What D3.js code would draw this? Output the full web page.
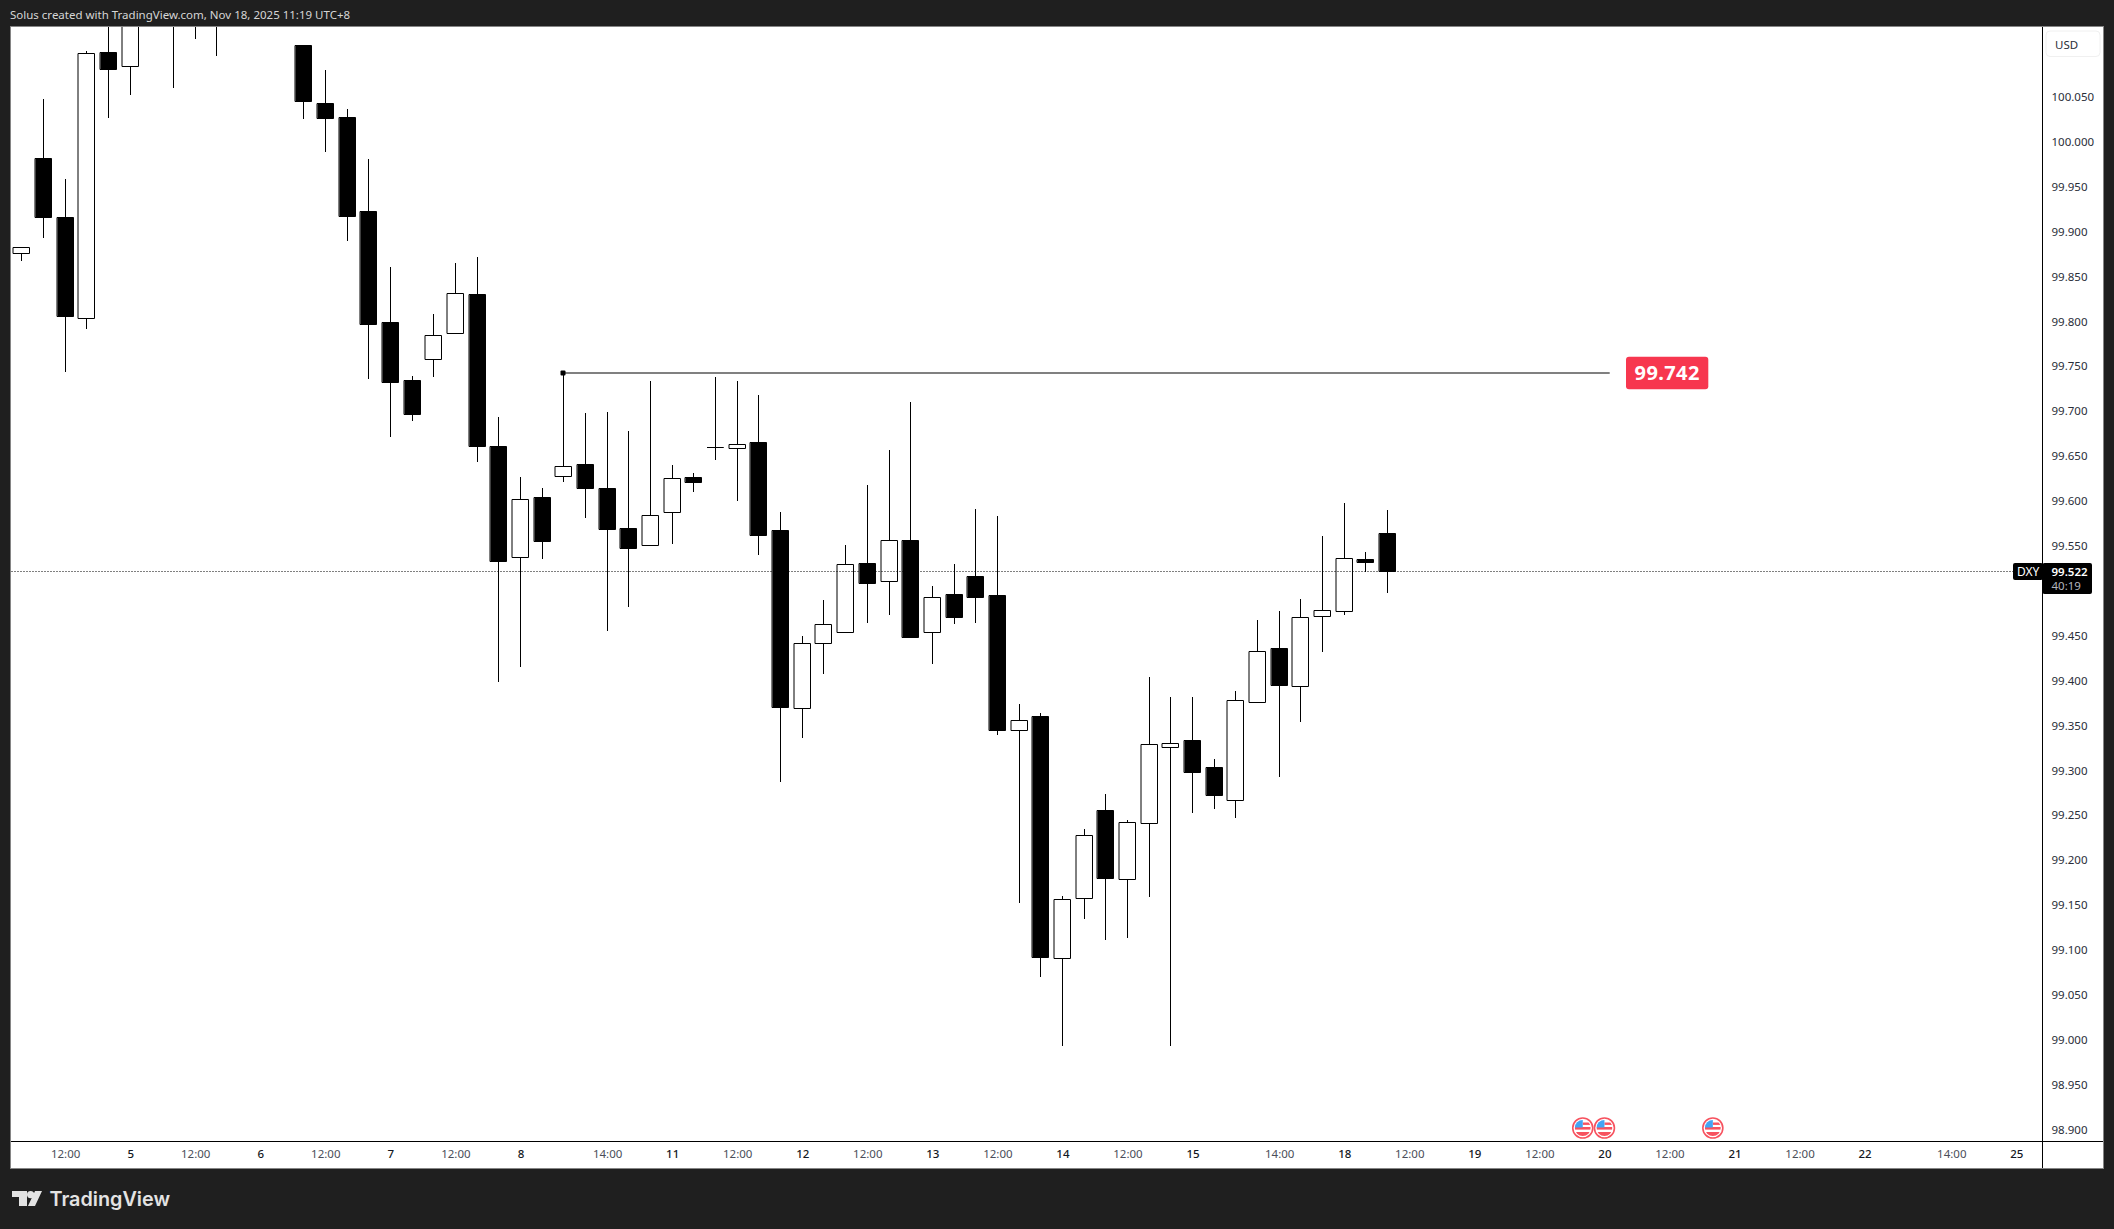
<!DOCTYPE html>
<html><head><meta charset="utf-8">
<script src="https://cdn.jsdelivr.net/npm/d3@7/dist/d3.min.js"></script>
<style>html,body{margin:0;padding:0;background:#1f1f1f;overflow:hidden}svg{display:block}</style>
</head><body><svg id="c" width="2114" height="1229"></svg>
<script>
const opens=[99.876,99.981,99.916,99.803,100.099,100.084,100.17,100.20,100.17,100.19,100.16,100.18,100.17,100.107,100.043,100.027,99.922,99.799,99.734,99.758,99.786,99.830,99.661,99.537,99.604,99.627,99.641,99.614,99.569,99.550,99.587,99.626,99.660,99.658,99.665,99.567,99.369,99.441,99.454,99.530,99.510,99.556,99.454,99.496,99.516,99.495,99.344,99.360,99.091,99.157,99.255,99.179,99.241,99.325,99.333,99.303,99.266,99.376,99.436,99.393,99.471,99.477,99.535,99.564];
const highs=[99.882,100.047,99.958,100.101,100.16,100.20,100.23,100.24,100.22,100.23,100.21,100.22,100.20,100.107,100.079,100.036,99.980,99.860,99.739,99.808,99.864,99.871,99.693,99.626,99.614,99.742,99.697,99.699,99.677,99.733,99.640,99.631,99.738,99.733,99.718,99.587,99.449,99.489,99.550,99.617,99.656,99.710,99.505,99.529,99.591,99.583,99.373,99.363,99.160,99.234,99.273,99.244,99.403,99.381,99.381,99.312,99.388,99.467,99.477,99.490,99.560,99.597,99.543,99.589];
const lows=[99.867,99.892,99.743,99.791,100.026,100.052,100.14,100.059,100.114,100.095,100.14,100.15,100.135,100.025,99.988,99.889,99.735,99.671,99.689,99.737,99.786,99.643,99.398,99.415,99.535,99.621,99.580,99.455,99.481,99.550,99.552,99.609,99.645,99.599,99.539,99.287,99.335,99.407,99.454,99.464,99.473,99.447,99.418,99.462,99.464,99.339,99.152,99.069,98.992,99.134,99.111,99.113,99.159,98.993,99.252,99.257,99.246,99.376,99.292,99.353,99.431,99.472,99.520,99.497];
const closes=[99.882,99.916,99.805,100.098,100.080,100.17,100.20,100.17,100.19,100.16,100.18,100.17,100.15,100.045,100.026,99.917,99.796,99.732,99.696,99.784,99.831,99.661,99.533,99.602,99.555,99.638,99.614,99.568,99.547,99.584,99.625,99.621,99.660,99.663,99.562,99.370,99.441,99.462,99.529,99.508,99.556,99.448,99.493,99.470,99.493,99.344,99.356,99.092,99.156,99.227,99.180,99.242,99.329,99.330,99.298,99.272,99.378,99.432,99.394,99.470,99.478,99.536,99.532,99.522];
const priceTicks=[100.05,100,99.95,99.9,99.85,99.8,99.75,99.7,99.65,99.6,99.55,99.45,99.4,99.35,99.3,99.25,99.2,99.15,99.1,99.05,99,98.95,98.9];
const timeSlots=[2,5,8,11,14,17,20,23,27,30,33,36,39,42,45,48,51,54,58,61,64,67,70,73,76,79,82,85,89,92];
const timeLabels=["12:00","5","12:00","6","12:00","7","12:00","8","14:00","11","12:00","12","12:00","13","12:00","14","12:00","15","14:00","18","12:00","19","12:00","20","12:00","21","12:00","22","14:00","25"];
const eventSlots=[72,73,78];
const levelPrice=99.742, levelStartSlot=25, lastPrice=99.522;
const symbol="DXY", currency="USD", countdown="40:19";
const headerText="Solus created with TradingView.com, Nov 18, 2025 11:19 UTC+8";

const font="'Noto Sans',sans-serif";
const svg=d3.select("#c");
const P={l:10.5,t:26.5,r:2103.5,b:1168.5,ax:2042.5,ay:1141.5};
const x=d3.scaleLinear().domain([0,92]).range([21.8,21.8+92*21.68]);
const y=d3.scaleLinear().domain([98.9,100.05]).range([1129.1,96.4]);
const px=s=>Math.floor(x(s))+.5;
const py=v=>Math.round(y(v));

svg.append("rect").attr("width",2114).attr("height",1229).attr("fill","#1f1f1f");
svg.append("rect").attr("x",P.l).attr("y",P.t).attr("width",P.r-P.l).attr("height",P.b-P.t)
   .attr("fill","#fff").attr("stroke","#858585");
svg.append("defs").append("clipPath").attr("id","plot").append("rect")
   .attr("x",P.l+.5).attr("y",P.t+.5).attr("width",P.ax-P.l-.5).attr("height",P.ay-P.t-.5);

svg.append("text").attr("x",10).attr("y",19).attr("fill","#d6d6d6")
   .attr("font-family",font).attr("font-size",11.5).text(headerText);

const plot=svg.append("g").attr("clip-path","url(#plot)");
const bars=d3.range(opens.length);

plot.selectAll("line.w").data(bars).join("line").attr("class","w")
  .attr("x1",px).attr("x2",px)
  .attr("y1",i=>py(highs[i])).attr("y2",i=>py(lows[i]))
  .attr("stroke","#000").attr("stroke-width",1);
plot.selectAll("path.b").data(bars).join("path").attr("class","b")
  .attr("d",i=>{
    const t=py(Math.max(opens[i],closes[i]))+.5,b=py(Math.min(opens[i],closes[i]))+.5,c=px(i);
    return `M${c-8},${t}H${c+8}V${b}H${c-8}Z`;
  })
  .attr("fill",i=>closes[i]>=opens[i]?"#fff":"#000")
  .attr("stroke","#000").attr("stroke-width",1).attr("stroke-linecap","square");

// last price dotted line
svg.append("line").attr("x1",P.l+1).attr("x2",2013)
  .attr("y1",py(lastPrice)+.5).attr("y2",py(lastPrice)+.5)
  .attr("stroke","#000").attr("stroke-dasharray","1 2");

// horizontal level
const ly=Math.round(y(levelPrice)), lx=px(levelStartSlot);
plot.append("line").attr("x1",lx).attr("x2",1609.7).attr("y1",ly).attr("y2",ly)
  .attr("stroke","#808080").attr("stroke-width",2);
plot.append("rect").attr("x",lx-3).attr("y",ly-2.5).attr("width",5).attr("height",5).attr("rx",1).attr("fill","#000");
svg.append("rect").attr("x",1626).attr("y",ly-16.2).attr("width",82.3).attr("height",32.4).attr("rx",3).attr("fill","#f7374f");
svg.append("text").attr("x",1667.2).attr("y",ly+7.2).attr("text-anchor","middle").attr("fill","#fff")
  .attr("font-family",font).attr("font-weight",700).attr("font-size",20).attr("letter-spacing",.4).text(levelPrice.toFixed(3));

// event flags
const ev=svg.selectAll("g.ev").data(eventSlots).join("g").attr("class","ev")
  .attr("transform",s=>`translate(${x(s)},1128)`);
svg.select("defs").append("clipPath").attr("id","flag").append("circle").attr("r",8);
ev.append("circle").attr("r",10).attr("fill","#fff").attr("stroke","#f7525f").attr("stroke-width",1.6);
const fl=ev.append("g").attr("clip-path","url(#flag)");
fl.append("rect").attr("x",-8).attr("y",-8).attr("width",16).attr("height",16).attr("fill","#fff");
fl.append("rect").attr("x",-8).attr("y",-1).attr("width",16).attr("height",2.6).attr("fill","#f7525f");
fl.append("rect").attr("x",0).attr("y",-5.5).attr("width",8).attr("height",2.4).attr("fill","#f7525f");
fl.append("rect").attr("x",-8).attr("y",4).attr("width",16).attr("height",4).attr("fill","#f7525f");
fl.append("rect").attr("x",-8).attr("y",-8).attr("width",8).attr("height",7.5).attr("fill","#42a5f5");

// axes
svg.append("line").attr("x1",P.ax).attr("x2",P.ax).attr("y1",P.t+.5).attr("y2",P.b-.5).attr("stroke","#000");
svg.append("line").attr("x1",P.l+.5).attr("x2",P.r-.5).attr("y1",P.ay).attr("y2",P.ay).attr("stroke","#000");

const ya=svg.append("g").attr("transform","translate(2051.5,0.5)")
  .call(d3.axisRight(y).tickValues(priceTicks).tickSize(0).tickPadding(0).tickFormat(d3.format(".3f")));
ya.select(".domain").remove();
ya.selectAll("text").attr("font-family",font).attr("font-size",11.5).attr("fill","#2a2e39");

const xa=svg.append("g").attr("transform","translate(0,1150)")
  .call(d3.axisBottom(x).tickValues(timeSlots).tickSize(0).tickPadding(0)
    .tickFormat(s=>timeLabels[timeSlots.indexOf(s)]));
xa.select(".domain").remove();
xa.selectAll("text").attr("font-family",font).attr("font-size",11.5)
  .attr("fill",d=>timeLabels[timeSlots.indexOf(d)].includes(":")?"#4a4e59":"#131722")
  .attr("font-weight",d=>timeLabels[timeSlots.indexOf(d)].includes(":")?400:500);

// USD button
svg.append("rect").attr("x",2046).attr("y",31).attr("width",54).attr("height",25.5).attr("rx",4)
  .attr("fill","#fff").attr("stroke","#f0f0f0");
svg.append("text").attr("x",2055).attr("y",48.5).attr("font-family",font).attr("font-size",11.5)
  .attr("fill","#2a2e39").text(currency);

// last price badges
const by=py(lastPrice);
svg.append("rect").attr("x",2013).attr("y",by-8).attr("width",30).attr("height",17).attr("rx",2).attr("fill","#000");
svg.append("rect").attr("x",P.ax).attr("y",by-8).attr("width",49.5).attr("height",31).attr("rx",2).attr("fill","#000");
svg.append("text").attr("x",2017).attr("y",by+5).attr("font-family",font).attr("font-size",12).attr("fill","#fff").text(symbol);
svg.append("text").attr("x",2051.5).attr("y",by+5).attr("font-family",font).attr("font-weight",600).attr("font-size",11.5).attr("fill","#fff").text(lastPrice.toFixed(3));
svg.append("text").attr("x",2051.5).attr("y",by+19).attr("font-family",font).attr("font-size",11.5).attr("fill","#b2b5be").text(countdown);

// brand
const lg=svg.append("g").attr("fill","#e3e3e3");
lg.append("path").attr("d","M12,1191H27V1206H19V1197H12Z");
lg.append("circle").attr("cx",30.6).attr("cy",1194.6).attr("r",3.6);
lg.append("path").attr("d","M35,1191H42L35,1206H28Z");
lg.append("text").attr("x",49.5).attr("y",1205.5).attr("font-family","'Inter',sans-serif")
  .attr("font-weight",600).attr("font-size",19.8).text("TradingView");
</script></body></html>
